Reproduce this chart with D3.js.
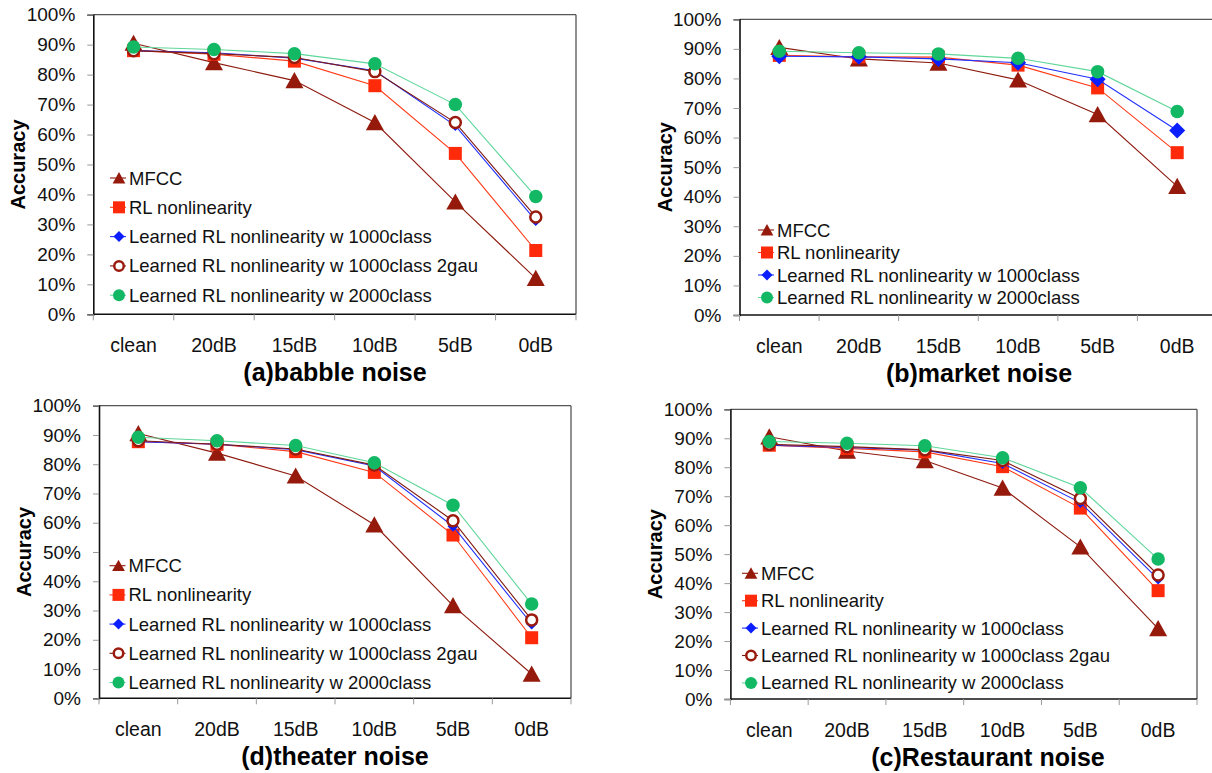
<!DOCTYPE html>
<html>
<head>
<meta charset="utf-8">
<script src="https://cdn.jsdelivr.net/npm/d3@7"></script>
<style>
  body { margin: 0; background: #fff; }
  svg { display: block; font-family: "Liberation Sans", Arial, Helvetica, sans-serif; }
</style>
</head>
<body>
<div id="chart"></div>
<script>
// noise conditions on the x axis
var conditions = ["clean", "20dB", "15dB", "10dB", "5dB", "0dB"];
var yTicks = [0, 10, 20, 30, 40, 50, 60, 70, 80, 90, 100];

var seriesNames = {
  MFCC: "MFCC",
  RL: "RL nonlinearity",
  L1000: "Learned RL nonlinearity w 1000class",
  L2gau: "Learned RL nonlinearity w 1000class 2gau",
  L2000: "Learned RL nonlinearity w 2000class"
};

// (a) babble noise
var babbleMFCC  = [90.5, 84.0, 78.0, 64.0, 37.5, 12.0];
var babbleRL    = [88.0, 86.8, 84.5, 76.3, 53.7, 21.3];
var babbleL1000 = [88.0, 87.3, 85.5, 81.3, 63.0, 31.3];
var babbleL2gau = [88.0, 87.0, 85.7, 81.0, 64.0, 32.5];
var babbleL2000 = [89.2, 88.4, 87.0, 83.6, 70.0, 39.3];

// (b) market noise
var marketMFCC  = [90.5, 86.6, 85.2, 79.5, 67.8, 43.5];
var marketRL    = [87.8, 87.3, 87.2, 84.5, 76.8, 54.9];
var marketL1000 = [87.5, 87.3, 86.6, 85.3, 79.7, 62.4];
var marketL2000 = [89.2, 88.7, 88.3, 86.8, 82.3, 68.8];

// (d) theater noise
var theaterMFCC  = [90.5, 83.8, 76.0, 59.3, 31.7, 8.3];
var theaterRL    = [87.7, 86.8, 84.3, 77.2, 55.8, 20.7];
var theaterL1000 = [87.7, 86.8, 85.0, 79.4, 58.8, 25.4];
var theaterL2gau = [88.0, 86.8, 85.2, 79.7, 60.7, 26.8];
var theaterL2000 = [89.2, 88.0, 86.4, 80.5, 66.0, 32.2];

// (c) restaurant noise
var restMFCC  = [90.5, 85.6, 82.3, 72.8, 52.5, 24.3];
var restRL    = [87.6, 86.5, 85.3, 80.2, 65.9, 37.4];
var restL1000 = [87.6, 86.8, 85.9, 81.3, 67.8, 41.4];
var restL2gau = [87.9, 87.1, 86.0, 82.3, 69.2, 42.8];
var restL2000 = [88.9, 88.3, 87.4, 83.3, 72.9, 48.3];

// marker / line styles per series
var styles = {
  MFCC:  { line: "#8e1b10", fill: "#961a0b", stroke: "none", sw: 0, type: "tri", size: 17, legendSize: 12 },
  RL:    { line: "#ff3a16", fill: "#ff2a0a", stroke: "none", sw: 0, type: "square", size: 13, legendSize: 12 },
  L1000: { line: "#2030ff", fill: "#0a1eff", stroke: "none", sw: 0, type: "diamond", size: 12, legendSize: 11 },
  L2gau: { line: "#7e1a12", fill: "#ffffff", stroke: "#9a1b0e", sw: 2.5, type: "circle", size: 13.5, legendSize: 12 },
  L2000: { line: "#5fd69a", fill: "#12b864", stroke: "none", sw: 0, type: "dot", size: 13.5, legendSize: 12 }
};

var panels = [
  { title: "(a)babble noise", left: 93.3, right: 576, top: 14.7, bottom: 314.3, titleX: 335,
    legendX: 119, legendY: 178, legendDy: 29.3, diamond: 11,
    series: [["MFCC", babbleMFCC], ["RL", babbleRL], ["L1000", babbleL1000], ["L2gau", babbleL2gau], ["L2000", babbleL2000]] },
  { title: "(b)market noise", left: 739.5, right: 1217, top: 19.3, bottom: 315, titleX: 979,
    legendX: 767, legendY: 230, legendDy: 22.5, diamond: 16,
    series: [["MFCC", marketMFCC], ["RL", marketRL], ["L1000", marketL1000], ["L2000", marketL2000]] },
  { title: "(d)theater noise", left: 99, right: 571, top: 405.7, bottom: 698.3, titleX: 335,
    legendX: 118.5, legendY: 565.7, legendDy: 29.2, diamond: 11,
    series: [["MFCC", theaterMFCC], ["RL", theaterRL], ["L1000", theaterL1000], ["L2gau", theaterL2gau], ["L2000", theaterL2000]] },
  { title: "(c)Restaurant noise", left: 730.4, right: 1197, top: 409.3, bottom: 699, titleX: 988,
    legendX: 751, legendY: 573.3, legendDy: 27.4, diamond: 11,
    series: [["MFCC", restMFCC], ["RL", restRL], ["L1000", restL1000], ["L2gau", restL2gau], ["L2000", restL2000]] }
];

var width = 1212, height = 773;

var svg = d3.select("#chart")
  .append("svg")
  .attr("width", width)
  .attr("height", height);

svg.append("rect").attr("width", width).attr("height", height).attr("fill", "#fff");

function drawMarker(g, st, cx, cy, size) {
  var h = size / 2;
  if (st.type === "tri") {
    g.append("path")
      .attr("d", "M" + cx + "," + (cy - size * 0.5) + "L" + (cx + size * 0.53) + "," + (cy + size * 0.45) +
        "L" + (cx - size * 0.53) + "," + (cy + size * 0.45) + "Z")
      .attr("fill", st.fill);
  } else if (st.type === "square") {
    g.append("rect").attr("x", cx - h).attr("y", cy - h).attr("width", size).attr("height", size)
      .attr("fill", st.fill);
  } else if (st.type === "diamond") {
    g.append("path")
      .attr("d", "M" + cx + "," + (cy - h) + "L" + (cx + h) + "," + cy + "L" + cx + "," + (cy + h) + "L" + (cx - h) + "," + cy + "Z")
      .attr("fill", st.fill);
  } else {
    g.append("circle").attr("cx", cx).attr("cy", cy).attr("r", h - st.sw / 2)
      .attr("fill", st.fill)
      .attr("stroke", st.stroke)
      .attr("stroke-width", st.sw);
  }
}

panels.forEach(function(p) {
  var g = svg.append("g");

  var x = d3.scaleBand().domain(conditions).range([p.left, p.right]);
  var y = d3.scaleLinear().domain([0, 100]).range([p.bottom, p.top]);
  var cx = function(c) { return x(c) + x.bandwidth() / 2; };

  // plot border
  g.append("line").attr("x1", p.left).attr("x2", p.right).attr("y1", p.top).attr("y2", p.top)
    .attr("stroke", "#555").attr("stroke-width", 1.3);
  g.append("line").attr("x1", p.right).attr("x2", p.right).attr("y1", p.top).attr("y2", p.bottom)
    .attr("stroke", "#555").attr("stroke-width", 1.3);

  // y axis
  var yAxis = g.append("g")
    .attr("transform", "translate(" + p.left + ",0)")
    .call(d3.axisLeft(y).tickValues(yTicks).tickSize(6).tickPadding(12).tickFormat(function(d) { return d + "%"; }));
  yAxis.select(".domain").attr("stroke", "#111").attr("stroke-width", 1.6);
  yAxis.selectAll(".tick line").attr("stroke", "#999");
  yAxis.selectAll("text").attr("font-size", 19).attr("fill", "#111")
    .attr("font-family", "'Liberation Sans', Arial, sans-serif");

  // x axis: ticks between categories, labels centred
  g.append("line").attr("x1", p.left).attr("x2", p.right).attr("y1", p.bottom).attr("y2", p.bottom)
    .attr("stroke", "#111").attr("stroke-width", 1.6);
  var edges = conditions.map(function(c) { return x(c); }).concat([p.right]);
  g.selectAll(".xtick").data(edges).enter().append("line")
    .attr("x1", function(d) { return d; }).attr("x2", function(d) { return d; })
    .attr("y1", p.bottom).attr("y2", p.bottom + 6)
    .attr("stroke", "#999");
  g.selectAll(".xlabel").data(conditions).enter().append("text")
    .attr("x", cx).attr("y", p.bottom + 37.5)
    .attr("text-anchor", "middle").attr("font-size", 19.5).attr("fill", "#111")
    .text(function(d) { return d; });

  // axis titles
  g.append("text")
    .attr("transform", "translate(" + (p.left - 68) + "," + ((p.top + p.bottom) / 2) + ") rotate(-90)")
    .attr("text-anchor", "middle").attr("font-size", 20).attr("font-weight", "bold").attr("fill", "#000")
    .text("Accuracy");
  g.append("text")
    .attr("x", p.titleX).attr("y", p.bottom + 66.7)
    .attr("text-anchor", "middle").attr("font-size", 25).attr("font-weight", "bold").attr("fill", "#000")
    .text(p.title);

  // lines and markers
  var line = d3.line()
    .x(function(d, i) { return cx(conditions[i]); })
    .y(function(d) { return y(d); });

  p.series.forEach(function(s) {
    var key = s[0], vals = s[1], st = styles[key];
    g.append("path").datum(vals)
      .attr("d", line)
      .attr("fill", "none")
      .attr("stroke", st.line)
      .attr("stroke-width", 1.1);
    var size = st.type === "diamond" ? p.diamond : st.size;
    vals.forEach(function(v, i) {
      drawMarker(g, st, cx(conditions[i]), y(v), size);
    });
  });

  // legend
  p.series.forEach(function(s, i) {
    var key = s[0], st = styles[key];
    var ly = p.legendY + i * p.legendDy;
    g.append("line")
      .attr("x1", p.legendX - 9).attr("x2", p.legendX + 7)
      .attr("y1", ly).attr("y2", ly)
      .attr("stroke", st.line).attr("stroke-width", 1.1);
    drawMarker(g, st, p.legendX, ly, st.legendSize);
    g.append("text")
      .attr("x", p.legendX + 10).attr("y", ly + 6.5)
      .attr("font-size", 18.5).attr("fill", "#111")
      .text(seriesNames[key]);
  });
});
</script>
</body>
</html>
